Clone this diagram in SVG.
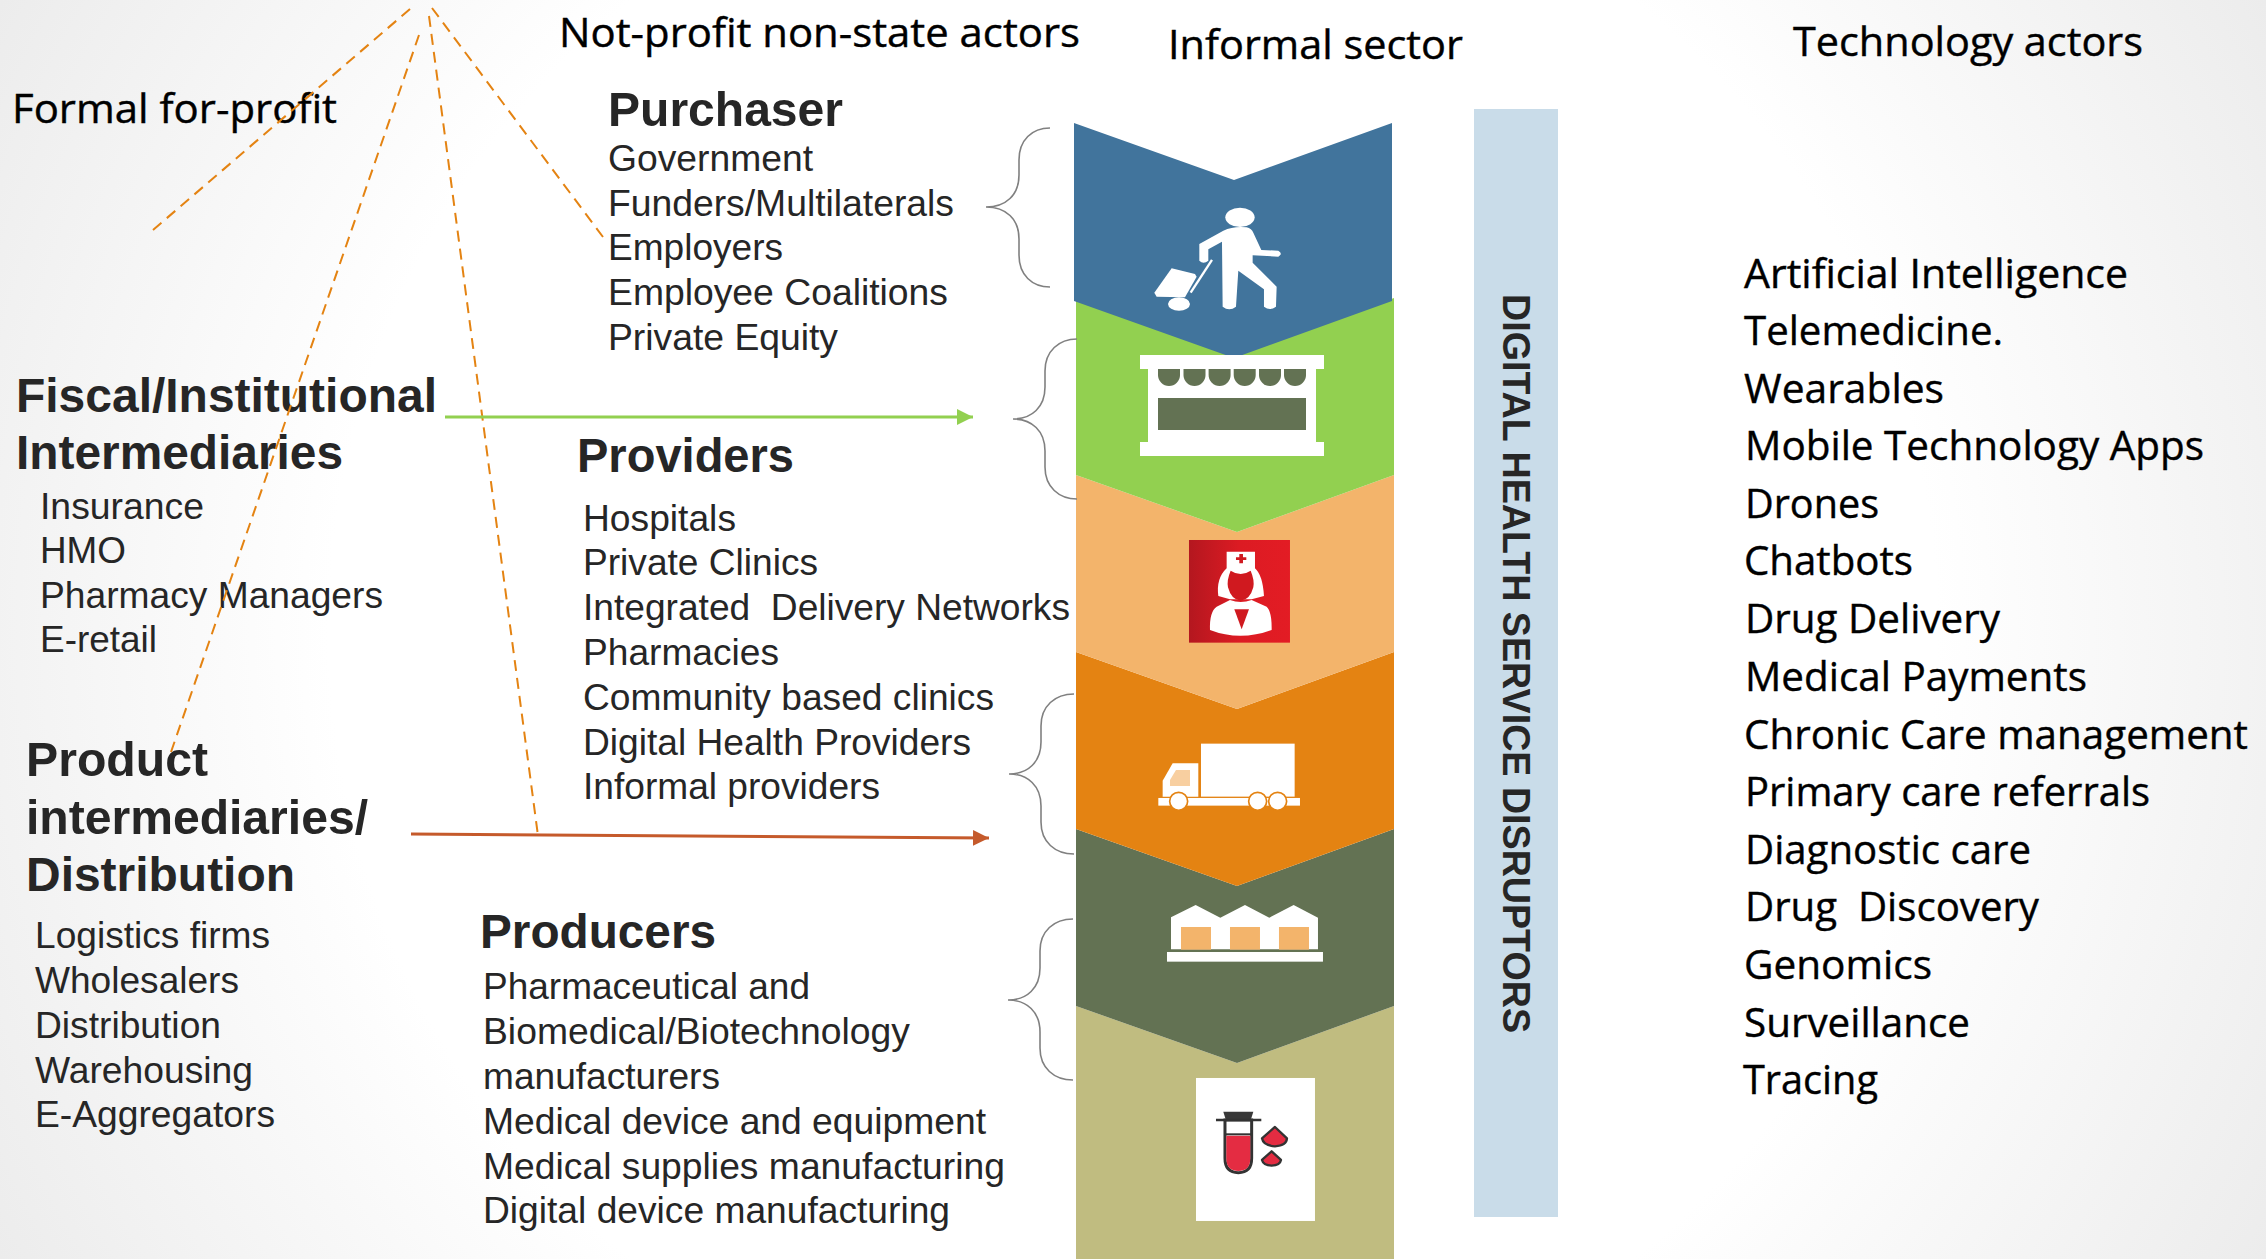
<svg xmlns="http://www.w3.org/2000/svg" width="2266" height="1259" viewBox="0 0 2266 1259">
<defs>
<radialGradient id="bg" gradientUnits="userSpaceOnUse" cx="1133" cy="630" r="1296">
<stop offset="0.62" stop-color="#ffffff"/><stop offset="1" stop-color="#ececec"/>
</radialGradient>
<linearGradient id="red" x1="0" x2="1" y1="0" y2="0"><stop offset="0" stop-color="#b4171f"/><stop offset="0.5" stop-color="#dc1b23"/><stop offset="1" stop-color="#e31c24"/></linearGradient>
<marker id="ag" markerUnits="userSpaceOnUse" markerWidth="17" markerHeight="18" refX="16" refY="9" orient="auto"><path d="M0 1L16 9L0 17Z" fill="#92d050"/></marker>
<marker id="ar" markerUnits="userSpaceOnUse" markerWidth="17" markerHeight="18" refX="16" refY="9" orient="auto"><path d="M0 1L16 9L0 17Z" fill="#c55a2b"/></marker>
</defs>
<style>
text{white-space:pre}
.h{font:bold 48px "Liberation Sans",Arial,sans-serif;fill:#262626}
.t{font:37px "Liberation Sans",Arial,sans-serif;fill:#262626}
.c{font:40px "Open Sans","Noto Sans",sans-serif;fill:#000;stroke:#000;stroke-width:.4}
.d{fill:none;stroke:#e48312;stroke-width:2;stroke-dasharray:11 7}
.b{fill:none;stroke:#808080;stroke-width:1.6}
.w{fill:#fff}
</style>
<rect id="background" width="2266" height="1259" fill="url(#bg)"/>

<g id="chevrons">
<polygon id="chevron-raw" points="1076,1006 1237,1063 1394,1006 1394,1259 1076,1259" fill="#c0bc80"/>
<polygon id="chevron-factory" points="1076,829 1237,886 1394,829 1394,1006 1237,1063 1076,1006" fill="#637253"/>
<polygon id="chevron-truck" points="1076,652 1237,709 1394,652 1394,829 1237,886 1076,829" fill="#e48312"/>
<polygon id="chevron-nurse" points="1076,475 1237,532 1394,475 1394,652 1237,709 1076,652" fill="#f3b46b"/>
<polygon id="chevron-store" points="1076,298 1237,355 1394,298 1394,475 1237,532 1076,475" fill="#92d050"/>
<polygon id="chevron-person" points="1074,123 1234,180 1392,123 1392,301 1234,358 1074,301" fill="#41749c"/>
</g>

<g id="icon-person" transform="translate(1060,100) scale(.3333)" class="w">
<ellipse cx="540" cy="352" rx="44" ry="29"/>
<path d="M490 392Q520 378 560 382Q575 386 580 398L604 450L655 452Q670 461 655 470L578 466L578 488L650 560L648 620Q630 634 612 620L612 568L535 512L528 620Q508 636 488 620L486 425L445 448L445 482Q430 494 418 482L418 432Z"/>
<path d="M335 505L405 522L410 530L375 592L290 590L283 578Z"/>
<ellipse cx="357" cy="612" rx="33" ry="20"/>
<path d="M456 480L392 578" stroke="#fff" stroke-width="7" fill="none"/>
</g>

<g id="icon-store">
<rect class="w" x="1140" y="355" width="184" height="14"/>
<rect class="w" x="1148" y="369" width="168" height="73"/>
<rect class="w" x="1140" y="442" width="184" height="14"/>
<rect x="1158" y="398" width="148" height="32" fill="#637253"/>
<g fill="#637253">
<path d="M1158 369h22v6a11 11 0 0 1-22 0z"/>
<path d="M1183.5 369h22v6a11 11 0 0 1-22 0z"/>
<path d="M1208.6 369h22v6a11 11 0 0 1-22 0z"/>
<path d="M1233.7 369h22v6a11 11 0 0 1-22 0z"/>
<path d="M1259 369h22v6a11 11 0 0 1-22 0z"/>
<path d="M1284 369h22v6a11 11 0 0 1-22 0z"/>
</g>
</g>

<g id="icon-nurse" transform="translate(1060,500) scale(.3333)">
<rect x="387" y="120" width="303" height="308" fill="url(#red)"/>
<path class="w" d="M500 155H585V205Q608 225 612 288L575 298H510L475 288Q468 235 500 205Z"/>
<path d="M512 212Q542 232 572 212Q584 240 580 262Q570 300 542 302Q514 300 504 262Q500 240 512 212Z" fill="#d0191f"/>
<path class="w" d="M510 300Q542 312 575 300L620 320Q636 335 635 390Q540 425 450 390Q448 335 470 320Z"/>
<path d="M523 328H567L545 388Z" fill="#d0191f"/>
<path d="M538 162h11v10h10v8h-10v10h-11v-10h-10v-8h10z" fill="#d0191f"/>
</g>

<g id="icon-truck" transform="translate(1060,500) scale(.3333)">
<rect class="w" x="423" y="731" width="281" height="159"/>
<path class="w" d="M308 842L338 790H415V890H308Z"/>
<path d="M330 840L348 810H390V858H330Z" fill="#f8cfa0"/>
<rect class="w" x="295" y="894" width="425" height="23"/>
<g class="w" stroke="#e48312" stroke-width="5">
<circle cx="356" cy="904" r="27"/><circle cx="593" cy="904" r="27"/><circle cx="653" cy="904" r="27"/>
</g>
</g>

<g id="icon-factory" transform="translate(1060,880) scale(.3333)">
<path class="w" d="M333 112L407 75L481 113L555 75L628 113L701 75L774 113V208H333Z"/>
<g fill="#f3b46b"><rect x="363" y="141" width="90" height="68"/><rect x="510" y="141" width="90" height="68"/><rect x="657" y="141" width="90" height="68"/></g>
<rect class="w" x="321" y="216" width="468" height="29"/>
</g>

<g id="icon-tube" transform="translate(1060,880) scale(.3333)">
<rect class="w" x="408" y="594" width="357" height="429"/>
<path d="M495 720H575V835Q575 878 535 878Q495 878 495 835Z" fill="#fff" stroke="#333" stroke-width="9"/>
<path d="M499 767H571V835Q571 873 535 873Q499 873 499 835Z" fill="#e42c42"/>
<path d="M496 763H574" stroke="#333" stroke-width="6"/>
<path d="M490 695H580L573 718H497Z" fill="#383838"/>
<path d="M468 720H604" stroke="#333" stroke-width="7"/>
<path d="M645 741L681 775Q680 797 645 799Q610 797 606 775Z" fill="#e42c42" stroke="#333" stroke-width="7" stroke-linejoin="round"/>
<path d="M635 814L663 840Q660 856 635 857Q610 856 606 840Z" fill="#e42c42" stroke="#333" stroke-width="7" stroke-linejoin="round"/>
</g>

<g id="disruptors">
<rect x="1474" y="109" width="84" height="1108" fill="#c9dce9"/>
<text transform="translate(1503,294) rotate(90)" style="font:bold 38px 'Liberation Sans',Arial,sans-serif;fill:#262626" textLength="739" lengthAdjust="spacingAndGlyphs">DIGITAL HEALTH SERVICE DISRUPTORS</text>
</g>

<g id="header-formal"><text class="c" x="12" y="123" textLength="325" lengthAdjust="spacingAndGlyphs">Formal for-profit</text></g>
<g id="header-notprofit"><text class="c" x="559" y="47" textLength="521" lengthAdjust="spacingAndGlyphs">Not-profit non-state actors</text></g>
<g id="header-informal"><text class="c" x="1168" y="59" textLength="295" lengthAdjust="spacingAndGlyphs">Informal sector</text></g>
<g id="header-technology"><text class="c" x="1793" y="56" textLength="350" lengthAdjust="spacingAndGlyphs">Technology actors</text></g>

<g id="fiscal">
<text class="h" x="16" y="412" textLength="421" lengthAdjust="spacingAndGlyphs">Fiscal/Institutional</text>
<text class="h" x="16" y="469" textLength="327" lengthAdjust="spacingAndGlyphs">Intermediaries</text>
<text class="t" x="40" y="519" textLength="164" lengthAdjust="spacingAndGlyphs">Insurance</text>
<text class="t" x="40" y="563" textLength="86" lengthAdjust="spacingAndGlyphs">HMO</text>
<text class="t" x="40" y="608" textLength="343" lengthAdjust="spacingAndGlyphs">Pharmacy Managers</text>
<text class="t" x="40" y="652" textLength="117" lengthAdjust="spacingAndGlyphs">E-retail</text>
</g>

<g id="product">
<text class="h" x="26" y="776" textLength="182" lengthAdjust="spacingAndGlyphs">Product</text>
<text class="h" x="26" y="834" textLength="342" lengthAdjust="spacingAndGlyphs">intermediaries/</text>
<text class="h" x="26" y="891" textLength="269" lengthAdjust="spacingAndGlyphs">Distribution</text>
<text class="t" x="35" y="948" textLength="235" lengthAdjust="spacingAndGlyphs">Logistics firms</text>
<text class="t" x="35" y="993" textLength="204" lengthAdjust="spacingAndGlyphs">Wholesalers</text>
<text class="t" x="35" y="1038" textLength="186" lengthAdjust="spacingAndGlyphs">Distribution</text>
<text class="t" x="35" y="1083" textLength="218" lengthAdjust="spacingAndGlyphs">Warehousing</text>
<text class="t" x="35" y="1127" textLength="240" lengthAdjust="spacingAndGlyphs">E-Aggregators</text>
</g>

<g id="purchaser">
<text class="h" x="608" y="126" textLength="235" lengthAdjust="spacingAndGlyphs">Purchaser</text>
<text class="t" x="608" y="171" textLength="205" lengthAdjust="spacingAndGlyphs">Government</text>
<text class="t" x="608" y="216" textLength="346" lengthAdjust="spacingAndGlyphs">Funders/Multilaterals</text>
<text class="t" x="608" y="260" textLength="175" lengthAdjust="spacingAndGlyphs">Employers</text>
<text class="t" x="608" y="305" textLength="340" lengthAdjust="spacingAndGlyphs">Employee Coalitions</text>
<text class="t" x="608" y="350" textLength="230" lengthAdjust="spacingAndGlyphs">Private Equity</text>
</g>

<g id="providers">
<text class="h" x="577" y="472" textLength="217" lengthAdjust="spacingAndGlyphs">Providers</text>
<text class="t" x="583" y="531" textLength="153" lengthAdjust="spacingAndGlyphs">Hospitals</text>
<text class="t" x="583" y="575" textLength="235" lengthAdjust="spacingAndGlyphs">Private Clinics</text>
<text class="t" x="583" y="620" textLength="487" lengthAdjust="spacingAndGlyphs">Integrated  Delivery Networks</text>
<text class="t" x="583" y="665" textLength="196" lengthAdjust="spacingAndGlyphs">Pharmacies</text>
<text class="t" x="583" y="710" textLength="411" lengthAdjust="spacingAndGlyphs">Community based clinics</text>
<text class="t" x="583" y="755" textLength="388" lengthAdjust="spacingAndGlyphs">Digital Health Providers</text>
<text class="t" x="583" y="799" textLength="297" lengthAdjust="spacingAndGlyphs">Informal providers</text>
</g>

<g id="producers">
<text class="h" x="480" y="948" textLength="236" lengthAdjust="spacingAndGlyphs">Producers</text>
<text class="t" x="483" y="999" textLength="327" lengthAdjust="spacingAndGlyphs">Pharmaceutical and</text>
<text class="t" x="483" y="1044" textLength="427" lengthAdjust="spacingAndGlyphs">Biomedical/Biotechnology</text>
<text class="t" x="483" y="1089" textLength="237" lengthAdjust="spacingAndGlyphs">manufacturers</text>
<text class="t" x="483" y="1134" textLength="503" lengthAdjust="spacingAndGlyphs">Medical device and equipment</text>
<text class="t" x="483" y="1179" textLength="522" lengthAdjust="spacingAndGlyphs">Medical supplies manufacturing</text>
<text class="t" x="483" y="1223" textLength="467" lengthAdjust="spacingAndGlyphs">Digital device manufacturing</text>
</g>

<g id="technology">
<text class="c" x="1744" y="288" textLength="384" lengthAdjust="spacingAndGlyphs">Artificial Intelligence</text>
<text class="c" x="1744" y="345" textLength="259" lengthAdjust="spacingAndGlyphs">Telemedicine.</text>
<text class="c" x="1744" y="403" textLength="200" lengthAdjust="spacingAndGlyphs">Wearables</text>
<text class="c" x="1745" y="460" textLength="459" lengthAdjust="spacingAndGlyphs">Mobile Technology Apps</text>
<text class="c" x="1745" y="518" textLength="134" lengthAdjust="spacingAndGlyphs">Drones</text>
<text class="c" x="1744" y="575" textLength="169" lengthAdjust="spacingAndGlyphs">Chatbots</text>
<text class="c" x="1745" y="633" textLength="255" lengthAdjust="spacingAndGlyphs">Drug Delivery</text>
<text class="c" x="1745" y="691" textLength="342" lengthAdjust="spacingAndGlyphs">Medical Payments</text>
<text class="c" x="1744" y="749" textLength="504" lengthAdjust="spacingAndGlyphs">Chronic Care management</text>
<text class="c" x="1745" y="806" textLength="405" lengthAdjust="spacingAndGlyphs">Primary care referrals</text>
<text class="c" x="1745" y="864" textLength="286" lengthAdjust="spacingAndGlyphs">Diagnostic care</text>
<text class="c" x="1745" y="921" textLength="294" lengthAdjust="spacingAndGlyphs">Drug  Discovery</text>
<text class="c" x="1744" y="979" textLength="188" lengthAdjust="spacingAndGlyphs">Genomics</text>
<text class="c" x="1744" y="1037" textLength="226" lengthAdjust="spacingAndGlyphs">Surveillance</text>
<text class="c" x="1743" y="1094" textLength="135" lengthAdjust="spacingAndGlyphs">Tracing</text>
</g>

<g id="connectors">
<path class="d" pathLength="335" d="M410 9L153 230"/>
<path class="d" pathLength="767" d="M419 35L171 752"/>
<path class="d" pathLength="821" d="M429 16L537.500 832"/>
<path class="d" pathLength="281" d="M432 8L603 237"/>
<path d="M445 417H973" stroke="#92d050" stroke-width="3" fill="none" marker-end="url(#ag)"/>
<path d="M411 834L989 838" stroke="#c55a2b" stroke-width="3" fill="none" marker-end="url(#ar)"/>
<path class="b" d="M1050 128C1032 128 1019 140 1019 160V175C1019 195 1006 207 986 207C1006 207 1019 219 1019 239V255C1019 275 1032 287 1050 287"/>
<path class="b" d="M1077 339C1059 339 1045 351 1045 371V387C1045 407 1032 419 1013 419C1032 419 1045 431 1045 451V467C1045 487 1059 499 1077 499"/>
<path class="b" d="M1074 694C1055 694 1041 706 1041 726V742C1041 762 1028 774 1009 774C1028 774 1041 786 1041 806V822C1041 842 1055 854 1074 854"/>
<path class="b" d="M1073 919C1054 919 1040 931 1040 951V968C1040 988 1027 1000 1008 1000C1027 1000 1040 1012 1040 1032V1048C1040 1068 1054 1080 1073 1080"/>
</g>
</svg>
